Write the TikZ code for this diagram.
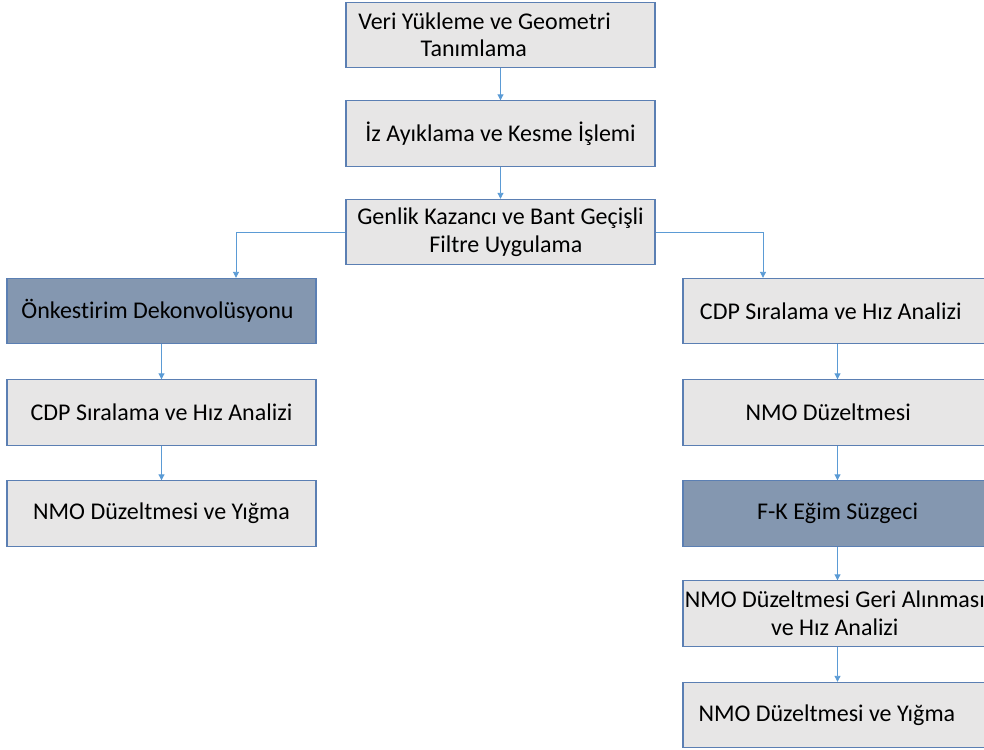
\documentclass[tikz,border=0pt]{standalone}
\usepackage{fontspec}
\setmainfont{Carlito}[Ligatures=NoCommon]
\usetikzlibrary{arrows.meta,calc}
\definecolor{boxfill}{HTML}{E7E6E6}
\definecolor{darkfill}{HTML}{8497B0}
\definecolor{boxline}{HTML}{5B7FB3}
\definecolor{arrowcol}{HTML}{5B9BD5}
\begin{document}
\begin{tikzpicture}[x=0.75pt,y=-0.75pt,
  procbox/.style={draw=boxline,line width=0.8pt,fill=boxfill,minimum width=231.75pt,minimum height=49pt,
    inner sep=0pt,align=center,font=\fontsize{18}{21}\selectfont,text=black},
  darkbox/.style={procbox,fill=darkfill},
  conn/.style={draw=arrowcol,line width=0.7pt,-{Triangle[length=4.5pt,width=4.5pt]}}]
\useasboundingbox (0,0) rectangle (984,749);
\clip (0,0) rectangle (984,749);
\node[procbox] (A) at (500.5,35) {\hspace*{-24pt}Veri Yükleme ve Geometri\\[-0.5pt]\hspace*{-40pt}Tanımlama};
\node[procbox] (B) at (500.5,133.5) {İz Ayıklama ve Kesme İşlemi};
\node[procbox] (C) at (500.5,232) {Genlik Kazancı ve Bant Geçişli\\\hspace*{8pt}Filtre Uygulama};
\node[darkbox] (L1) at (161.5,311) {\hspace*{-6pt}Önkestirim Dekonvolüsyonu};
\node[procbox] (L2) at (161.5,412.5) {CDP Sıralama ve Hız Analizi};
\node[procbox] (L3) at (161.5,513.5) {NMO Düzeltmesi ve Yığma};
\node[procbox] (R1) at (837.5,311) {\hspace*{-10pt}CDP Sıralama ve Hız Analizi};
\node[procbox] (R2) at (837.5,412.5) {\hspace*{-14pt}NMO Düzeltmesi};
\node[darkbox] (R3) at (837.5,513.5) {F-K Eğim Süzgeci};
\node[procbox] (R4) at (837.5,613.5) {\hspace*{-4pt}NMO Düzeltmesi Geri Alınması\\\hspace*{-4pt}ve Hız Analizi};
\node[procbox] (R5) at (837.5,715) {\hspace*{-16pt}NMO Düzeltmesi ve Yığma};
\draw[conn] (A) -- (B);
\draw[conn] (B) -- (C);
\draw[conn] (C.west) -| ($(L1.north)+(74.5,0)$);
\draw[conn] (C.east) -| ($(R1.north)+(-74.5,0)$);
\draw[conn] (L1) -- (L2);
\draw[conn] (L2) -- (L3);
\draw[conn] (R1) -- (R2);
\draw[conn] (R2) -- (R3);
\draw[conn] (R3) -- (R4);
\draw[conn] (R4) -- (R5);
\end{tikzpicture}
\end{document}
